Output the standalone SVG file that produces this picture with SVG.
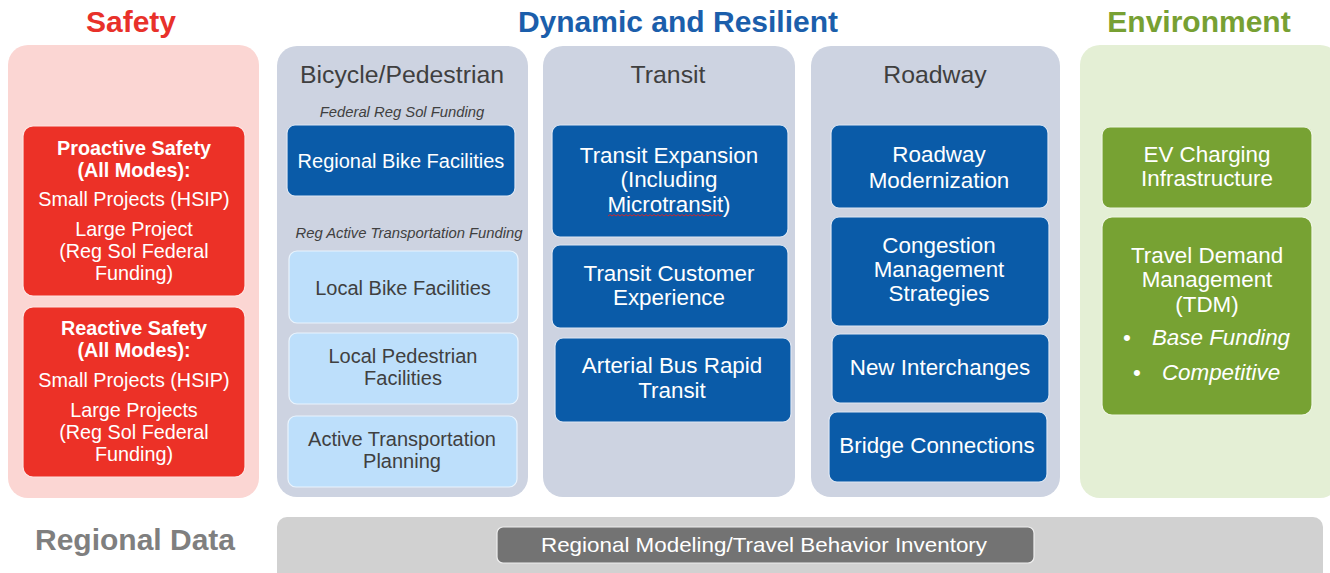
<svg xmlns="http://www.w3.org/2000/svg" width="1330" height="573" viewBox="0 0 1330 573">
<style>
text{font-family:"Liberation Sans",Arial,sans-serif;text-anchor:middle}
.h{font-weight:bold;font-size:30px}
.pt{font-size:24.8px;fill:#3f3f3f}
.bt{font-size:22.4px;fill:#fff}
.bs{font-size:20px;fill:#fff}
.lt{font-size:20px;fill:#404040}
.it{font-size:14.8px;font-style:italic;fill:#404040}
.st{font-size:19.8px;fill:#fff}
.sb{font-size:19.8px;fill:#fff;font-weight:bold}
.blue{fill:#0a5ba8;stroke:#dfe7f3;stroke-width:1.2}
.lb{fill:#bddffb;stroke:#eaf4fd;stroke-width:1.2}
.red{fill:#ec3127;stroke:#fde4e2;stroke-width:1.2}
.grn{fill:#77a233;stroke:#eef5e3;stroke-width:1.2}
.gp{fill:#cdd3e1}
</style>
<rect width="1330" height="573" fill="#fff"/>
<text class="h" x="131" y="32" fill="#e8312a">Safety</text>
<text class="h" x="678" y="32" fill="#1b5eab">Dynamic and Resilient</text>
<text class="h" x="1199" y="32" fill="#77a033">Environment</text>
<text class="h" x="135" y="550" fill="#7f7f7f">Regional Data</text>

<g id="safety">
<rect x="8" y="45" width="251" height="453" rx="20" fill="#fbd6d3"/>
<g id="proactive">
<rect class="red" x="23" y="126" width="222" height="170" rx="10"/>
<text class="sb" x="134" y="155">Proactive Safety</text>
<text class="sb" x="134" y="177">(All Modes):</text>
<text class="st" x="134" y="206">Small Projects (HSIP)</text>
<text class="st" x="134" y="236">Large Project</text>
<text class="st" x="134" y="258">(Reg Sol Federal</text>
<text class="st" x="134" y="280">Funding)</text>
</g>
<g id="reactive">
<rect class="red" x="23" y="307" width="222" height="170" rx="10"/>
<text class="sb" x="134" y="335">Reactive Safety</text>
<text class="sb" x="134" y="357">(All Modes):</text>
<text class="st" x="134" y="387">Small Projects (HSIP)</text>
<text class="st" x="134" y="417">Large Projects</text>
<text class="st" x="134" y="439">(Reg Sol Federal</text>
<text class="st" x="134" y="461">Funding)</text>
</g>
</g>

<g id="bikeped">
<rect class="gp" x="277" y="46" width="251" height="451" rx="20"/>
<text class="pt" x="402" y="83">Bicycle/Pedestrian</text>
<text class="it" x="402" y="117">Federal Reg Sol Funding</text>
<g id="regbike"><rect class="blue" x="287" y="125" width="228" height="71" rx="8"/>
<text class="bs" x="401" y="168">Regional Bike Facilities</text></g>
<text class="it" x="409" y="238">Reg Active Transportation Funding</text>
<g id="localbike"><rect class="lb" x="289" y="251" width="229" height="72" rx="8"/>
<text class="lt" x="403" y="295">Local Bike Facilities</text></g>
<g id="localped"><rect class="lb" x="289" y="333" width="229" height="71" rx="8"/>
<text class="lt" x="403" y="363">Local Pedestrian</text>
<text class="lt" x="403" y="385">Facilities</text></g>
<g id="atp"><rect class="lb" x="288" y="416" width="229" height="71" rx="8"/>
<text class="lt" x="402" y="446">Active Transportation</text>
<text class="lt" x="402" y="468">Planning</text></g>
</g>

<g id="transit">
<rect class="gp" x="543" y="46" width="252" height="451" rx="20"/>
<text class="pt" x="668" y="83">Transit</text>
<g id="texp"><rect class="blue" x="552" y="125" width="236" height="112" rx="8"/>
<text class="bt" x="669" y="163">Transit Expansion</text>
<text class="bt" x="669" y="187">(Including</text>
<text class="bt" x="669" y="212">Microtransit)</text>
<path d="M608 216 l2 -1.5 l2 1.5 l2 -1.5 l2 1.5 l2 -1.5 l2 1.5 l2 -1.5 l2 1.5 l2 -1.5 l2 1.5 l2 -1.5 l2 1.5 l2 -1.5 l2 1.5 l2 -1.5 l2 1.5 l2 -1.5 l2 1.5 l2 -1.5 l2 1.5 l2 -1.5 l2 1.5 l2 -1.5 l2 1.5 l2 -1.5 l2 1.5 l2 -1.5 l2 1.5 l2 -1.5 l2 1.5 l2 -1.5 l2 1.5 l2 -1.5 l2 1.5 l2 -1.5 l2 1.5 l2 -1.5 l2 1.5 l2 -1.5 l2 1.5 l2 -1.5 l2 1.5 l2 -1.5 l2 1.5 l2 -1.5 l2 1.5 l2 -1.5 l2 1.5 l2 -1.5 l2 1.5 l2 -1.5 l2 1.5 l2 -1.5 l2 1.5 l2 -1.5 l2 1.5 l2 -1.5" fill="none" stroke="#d22" stroke-width="0.9"/></g>
<g id="tcust"><rect class="blue" x="552" y="245" width="236" height="83" rx="8"/>
<text class="bt" x="669" y="281">Transit Customer</text>
<text class="bt" x="669" y="305">Experience</text></g>
<g id="brt"><rect class="blue" x="555" y="338" width="236" height="84" rx="8"/>
<text class="bt" x="672" y="373">Arterial Bus Rapid</text>
<text class="bt" x="672" y="398">Transit</text></g>
</g>

<g id="roadway">
<rect class="gp" x="811" y="46" width="249" height="451" rx="20"/>
<text class="pt" x="935" y="83">Roadway</text>
<g id="rmod"><rect class="blue" x="831" y="125" width="217" height="83" rx="8"/>
<text class="bt" x="939" y="162">Roadway</text>
<text class="bt" x="939" y="188">Modernization</text></g>
<g id="cms"><rect class="blue" x="831" y="217" width="218" height="109" rx="8"/>
<text class="bt" x="939" y="253">Congestion</text>
<text class="bt" x="939" y="277">Management</text>
<text class="bt" x="939" y="301">Strategies</text></g>
<g id="newint"><rect class="blue" x="832" y="334" width="217" height="69" rx="8"/>
<text class="bt" x="940" y="375">New Interchanges</text></g>
<g id="bridge"><rect class="blue" x="829" y="412" width="218" height="70" rx="8"/>
<text class="bt" x="937" y="453">Bridge Connections</text></g>
</g>

<g id="environment">
<rect x="1080" y="45" width="260" height="453" rx="20" fill="#e4efd5"/>
<g id="ev"><rect class="grn" x="1102" y="127" width="210" height="81" rx="8"/>
<text class="bt" x="1207" y="162">EV Charging</text>
<text class="bt" x="1207" y="186">Infrastructure</text></g>
<g id="tdm"><rect class="grn" x="1102" y="217" width="210" height="198" rx="10"/>
<text class="bt" x="1207" y="263">Travel Demand</text>
<text class="bt" x="1207" y="287">Management</text>
<text class="bt" x="1207" y="312">(TDM)</text>
<text class="bt" x="1127" y="345">•</text>
<text class="bt" x="1221" y="345" font-style="italic">Base Funding</text>
<text class="bt" x="1137" y="380">•</text>
<text class="bt" x="1221" y="380" font-style="italic">Competitive</text></g>
</g>

<g id="regionaldata">
<rect x="277" y="517" width="1046" height="70" rx="10" fill="#d1d1d1"/>
<g id="model"><rect x="497" y="527" width="537" height="36" rx="6" fill="#737373" stroke="#eeeeee" stroke-width="1.2"/>
<text x="764" y="552" font-size="21" fill="#fff" textLength="446" lengthAdjust="spacingAndGlyphs">Regional Modeling/Travel Behavior Inventory</text></g>
</g>
<g id="connectors"/>
</svg>
